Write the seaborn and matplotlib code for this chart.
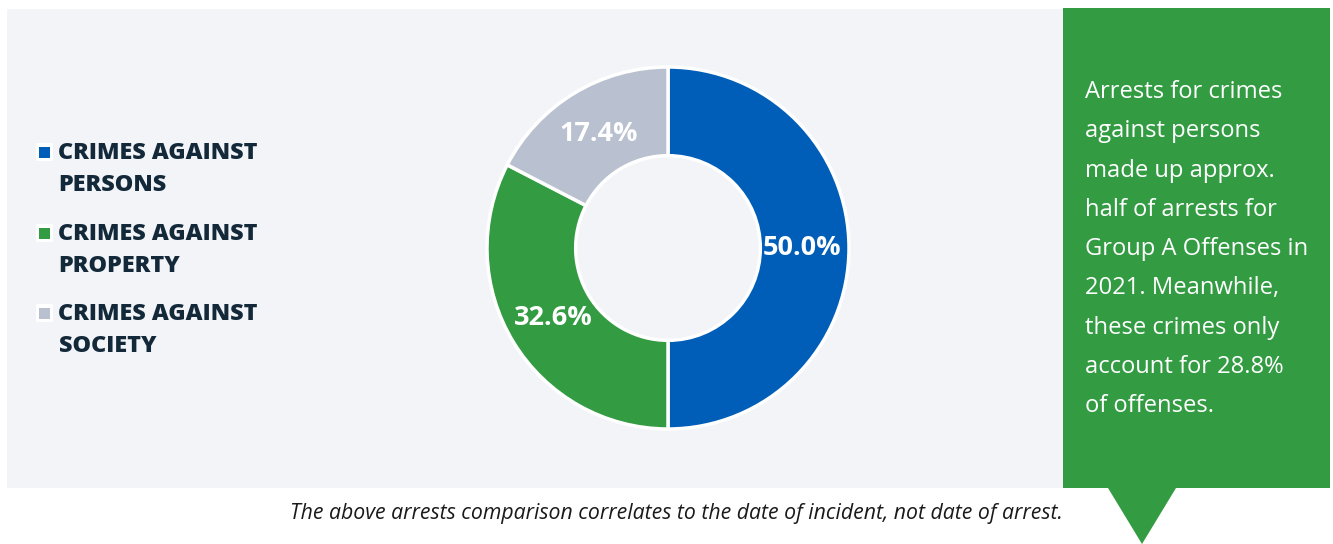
import matplotlib
matplotlib.use('Agg')

import matplotlib.pyplot as plt
import seaborn as sns
from matplotlib.patches import Rectangle, Polygon, FancyBboxPatch

sns.set_theme(style='white')
plt.rcParams['font.family'] = ['Open Sans', 'DejaVu Sans']

# --------- data ---------
categories = ['CRIMES AGAINST PERSONS', 'CRIMES AGAINST PROPERTY', 'CRIMES AGAINST SOCIETY']
legend_lines = [['CRIMES AGAINST', 'PERSONS'], ['CRIMES AGAINST', 'PROPERTY'], ['CRIMES AGAINST', 'SOCIETY']]
shares = [50.0, 32.6, 17.4]
colors = ['#005EB8', '#339C43', '#B9C0D0']

callout_lines = ['Arrests for crimes', 'against persons', 'made up approx.',
                 'half of arrests for', 'Group A Offenses in', '2021. Meanwhile,',
                 'these crimes only', 'account for 28.8%', 'of offenses.']
footnote = 'The above arrests comparison correlates to the date of incident, not date of arrest.'

W, H = 1333, 544
fig = plt.figure(figsize=(W / 100, H / 100), dpi=100, facecolor='white')


def fx(px):
    return px / W


def fy(py):
    return 1 - py / H


# light panel behind the chart
fig.patches.append(Rectangle((fx(7), fy(488)), fx(1063) - fx(7), fy(9) - fy(488),
                             transform=fig.transFigure, facecolor='#F2F4F8',
                             edgecolor='none', zorder=0))

# --------- donut ---------
cx, cy, r = 668, 248, 181
ax = fig.add_axes([fx(cx - r), fy(cy + r), 2 * r / W, 2 * r / H])
ax.set_zorder(5)
wedges, _, autotexts = ax.pie(shares, colors=colors, startangle=90, counterclock=False,
                              autopct='%.1f%%', pctdistance=0.74,
                              wedgeprops=dict(width=0.49, edgecolor='white', linewidth=2.5),
                              textprops=dict(color='white', fontsize=19.5, fontweight='bold'))
ax.set_xlim(-1.0, 1.0)
ax.set_ylim(-1.0, 1.0)
ax.set_aspect('equal')
ax.axis('off')

# --------- legend ---------
group_base = [159, 240, 320]
for i, lines in enumerate(legend_lines):
    b = group_base[i]
    fig.patches.append(FancyBboxPatch((fx(36), fy(b + 2)), fx(53) - fx(36), fy(143) - fy(161),
                                      boxstyle='round,pad=0,rounding_size=0.002',
                                      transform=fig.transFigure, facecolor='white',
                                      edgecolor='none', zorder=2))
    fig.patches.append(Rectangle((fx(38.5), fy(b - 1)), fx(50.5) - fx(38.5), fy(147) - fy(158.5),
                                 transform=fig.transFigure, facecolor=colors[i],
                                 edgecolor='none', zorder=3))
    for j, line in enumerate(lines):
        fig.text(fx(58.5), fy(b + 32 * j), line, ha='left', va='baseline',
                 fontsize=16.8, fontweight='heavy', color='#13293A')

# --------- callout box ---------
box = [(1063, 8), (1330, 8), (1330, 488), (1176, 488), (1142, 544),
       (1108, 488), (1063, 488)]
fig.patches.append(Polygon([(fx(x), fy(y)) for x, y in box], closed=True,
                           transform=fig.transFigure, facecolor='#339C43',
                           edgecolor='none', zorder=1))
for k, line in enumerate(callout_lines):
    fig.text(fx(1085), fy(98.3 + 39.2 * k), line, ha='left', va='baseline',
             fontsize=17.1, color='white')

# --------- footnote ---------
fig.text(fx(676), fy(519), footnote, ha='center', va='baseline',
         fontsize=15.3, style='italic', color='#1A1A1A')

fig.savefig('out.png', dpi=100, facecolor='white')
